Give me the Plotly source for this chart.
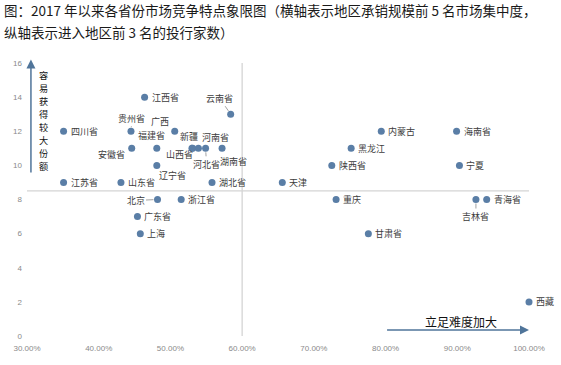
import plotly.graph_objects as go

# ---- data ----
provinces = ["四川省", "江西省", "云南省", "贵州省", "广西", "新疆", "福建省", "河南省",
             "安徽省", "山西省", "河北省", "湖南省", "辽宁省", "黑龙江", "内蒙古", "海南省",
             "陕西省", "宁夏", "江苏省", "山东省", "湖北省", "天津", "北京", "浙江省",
             "重庆", "吉林省", "青海省", "广东省", "上海", "甘肃省", "西藏"]
concentration = [0.351, 0.464, 0.584, 0.445, 0.506, 0.531, 0.481, 0.539,
                 0.446, 0.530, 0.549, 0.572, 0.481, 0.752, 0.794, 0.899,
                 0.725, 0.903, 0.351, 0.431, 0.558, 0.656, 0.482, 0.515,
                 0.731, 0.926, 0.941, 0.454, 0.458, 0.776, 1.000]
bank_count = [12, 14, 13, 12, 12, 11, 11, 11,
              11, 11, 11, 11, 10, 11, 12, 12,
              10, 10, 9, 9, 9, 9, 8, 8,
              8, 8, 8, 7, 6, 6, 2]
x_ticks = [0.3, 0.4, 0.5, 0.6, 0.7, 0.8, 0.9, 1.0]
y_ticks = [0, 2, 4, 6, 8, 10, 12, 14, 16]

title_line1 = "图：2017 年以来各省份市场竞争特点象限图（横轴表示地区承销规模前 5 名市场集中度，"
title_line2 = "纵轴表示进入地区前 3 名的投行家数）"
y_note = "容易获得较大份额"
x_note = "立足难度加大"

# label placement (pixel offsets of label centre; leader = draw a connector)
label_offsets = {
    "云南省": (-11, -16, True),
    "贵州省": (1, -13, True),
    "广西": (-15, -10, False),
    "新疆": (-4, -12, True),
    "福建省": (-5, -13, False),
    "河南省": (17, -11, False),
    "安徽省": (-20, 6, False),
    "山西省": (-12, 6, False),
    "河北省": (1, 16, True),
    "湖南省": (11, 13, False),
    "辽宁省": (16, 10, False),
    "北京": (-22, 1, True),
    "吉林省": (0, 17, True),
}

CJK = "Noto Sans CJK SC"
dot_color = "#5a7ea6"
arrow_color = "#50759a"
label_font = dict(family=CJK, size=9, color="#3c3c3c")

fig = go.Figure()
fig.add_trace(go.Scatter(
    x=concentration, y=bank_count, mode="markers",
    marker=dict(size=7, color=dot_color),
    cliponaxis=False, hoverinfo="text", text=provinces,
))

annotations = []
for name, xv, yv in zip(provinces, concentration, bank_count):
    if name in label_offsets:
        dx, dy, leader = label_offsets[name]
        if leader:
            annotations.append(dict(
                x=xv, y=yv, xref="x", yref="y", text=name, showarrow=True,
                ax=dx, ay=dy, arrowhead=0, arrowwidth=0.8, arrowcolor="#8a8a8a",
                standoff=4, font=label_font))
        else:
            annotations.append(dict(
                x=xv, y=yv, xref="x", yref="y", text=name, showarrow=False,
                xshift=dx, yshift=-dy, font=label_font))
    else:
        annotations.append(dict(
            x=xv, y=yv, xref="x", yref="y", text=name, showarrow=False,
            xanchor="left", xshift=5, font=label_font))

# title
annotations.append(dict(x=0, y=1, xref="paper", yref="paper", xanchor="left", yanchor="middle",
                        xshift=-25, yshift=63 - 10, text=title_line1, showarrow=False,
                        font=dict(family=CJK, size=13.5, color="#1a1a1a")))
annotations.append(dict(x=0, y=1, xref="paper", yref="paper", xanchor="left", yanchor="middle",
                        xshift=-25, yshift=63 - 32, text=title_line2, showarrow=False,
                        font=dict(family=CJK, size=13.5, color="#1a1a1a")))

# vertical arrow + vertical note (one character per row, tight pitch)
annotations.append(dict(x=0.3055, y=16.2, xref="x", yref="y", ax=0.3055, ay=9.5,
                        axref="x", ayref="y", text="", showarrow=True, arrowhead=2,
                        arrowsize=1.2, arrowwidth=1.5, arrowcolor=arrow_color))
for i, ch in enumerate(y_note):
    annotations.append(dict(x=0.3225, y=16, xref="x", yref="y", showarrow=False,
                            yanchor="middle", yshift=-(12 + 13 * i), text=ch,
                            borderpad=0,
                            font=dict(family=CJK, size=9.2, color="#111111")))
# horizontal arrow + note
annotations.append(dict(x=1.0, y=0.35, xref="x", yref="y", ax=0.8, ay=0.35,
                        axref="x", ayref="y", text="", showarrow=True, arrowhead=2,
                        arrowsize=1.2, arrowwidth=1.5, arrowcolor=arrow_color))
annotations.append(dict(x=0.905, y=0.85, xref="x", yref="y", showarrow=False,
                        text=x_note, font=dict(family=CJK, size=12, color="#111111")))

shapes = [
    dict(type="line", xref="x", yref="y", x0=0.6, x1=0.6, y0=0, y1=16.1,
         line=dict(color="#d4d4d4", width=1.3), layer="below"),
    dict(type="line", xref="x", yref="y", x0=0.3, x1=1.0, y0=8.5, y1=8.5,
         line=dict(color="#d4d4d4", width=1.3), layer="below"),
]

fig.update_layout(
    width=561, height=365,
    margin=dict(l=27, r=32, t=63, b=25),
    plot_bgcolor="white", paper_bgcolor="white",
    showlegend=False,
    annotations=annotations, shapes=shapes,
    xaxis=dict(range=[0.3, 1.0], tickvals=x_ticks, tickformat=".2%",
               showgrid=False, zeroline=False, showline=False, ticks="",
               ticklabelstandoff=6,
               tickfont=dict(family="Liberation Sans", size=8, color="#8a8a8a")),
    yaxis=dict(range=[0, 16], tickvals=y_ticks,
               showgrid=False, zeroline=False, showline=False, ticks="",
               ticklabelstandoff=4,
               tickfont=dict(family="Liberation Sans", size=8, color="#8a8a8a")),
)

# remove the browser's default 8px body margin so the figure sits at the page corner
fig.write_html("out.html", config={"displayModeBar": False},
               post_script="document.body.style.margin='0';")
